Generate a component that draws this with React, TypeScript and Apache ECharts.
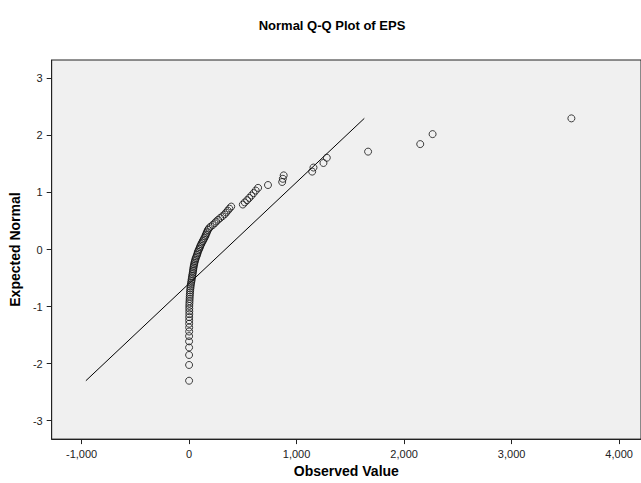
import React, { useEffect, useRef } from "react";
import * as echarts from "echarts";

// Observed EPS values (sorted ascending)
const observed: number[] = [
  0, 0, 0, 0, 0, 0, 1, 1, 1, 1, 1, 2, 2, 2,
  2, 3, 4, 5, 6, 7, 9, 10, 12, 14, 16, 19, 22, 24, 27, 29, 32, 35, 37, 39,
  41, 44, 47, 50, 54, 58, 62, 68, 74, 78, 82, 88,
  95, 100, 106, 112, 120, 128, 135, 142, 150, 156, 162, 168, 175, 185,
  200, 220, 238, 252, 270, 290, 310, 330, 345, 360, 375, 392,
  500, 518, 540, 560, 580, 600, 620, 642,
  734,
  866, 872, 880,
  1145, 1157, 1250, 1281,
  1665,
  2150,
  2265,
  3556,
];

// Expected normal values
const expected: number[] = [
  -2.299, -2.023, -1.848, -1.716, -1.609, -1.517, -1.437, -1.366, -1.3, -1.24,
  -1.184, -1.131, -1.081, -1.034, -0.989, -0.946, -0.905, -0.865, -0.826, -0.789,
  -0.753, -0.717, -0.683, -0.649, -0.616, -0.584, -0.553, -0.522, -0.491, -0.461,
  -0.431, -0.401, -0.372, -0.344, -0.315, -0.287, -0.259, -0.231, -0.203, -0.176,
  -0.149, -0.122, -0.094, -0.067, -0.04, -0.013,
  0.013, 0.04, 0.067, 0.094, 0.122, 0.149, 0.176, 0.203, 0.231, 0.259,
  0.287, 0.315, 0.344, 0.372, 0.401, 0.431, 0.461, 0.491, 0.522, 0.553,
  0.584, 0.616, 0.649, 0.683, 0.717, 0.753, 0.789, 0.826, 0.865, 0.905,
  0.946, 0.989, 1.034, 1.081, 1.131, 1.184, 1.24, 1.3, 1.366, 1.437,
  1.517, 1.609, 1.716, 1.848, 2.023, 2.299,
];

// Reference line endpoints
const lineObserved: number[] = [-960, 1630];
const lineExpected: number[] = [-2.299, 2.299];

const xTicks: number[] = [-1000, 0, 1000, 2000, 3000, 4000];
const yTicks: number[] = [-3, -2, -1, 0, 1, 2, 3];

const FONT = '"Liberation Sans", Arial, sans-serif';

export default function App() {
  const ref = useRef<HTMLDivElement>(null);
  useEffect(() => {
    const chart = echarts.init(ref.current!, null, { renderer: "svg" });
    const points = observed.map((v, i) => [v, expected[i]]);
    const linePts = lineObserved.map((v, i) => [v, lineExpected[i]]);
    chart.setOption({
      animation: false,
      backgroundColor: "#ffffff",
      title: {
        text: "Normal Q-Q Plot of EPS",
        left: 327,
        textAlign: "center",
        top: 14,
        textStyle: { fontFamily: FONT, fontSize: 13, fontWeight: "bold", color: "#000" },
      },
      grid: {
        left: 51,
        top: 60,
        right: -2,
        bottom: 43,
        show: true,
        backgroundColor: "#f0f0f0",
        borderColor: "#222",
        borderWidth: 1,
      },
      xAxis: {
        type: "value",
        min: -1278,
        max: 4203.5,
        name: "Observed Value",
        nameLocation: "middle",
        nameGap: 23,
        nameTextStyle: { fontFamily: FONT, fontSize: 14, fontWeight: "bold", color: "#000" },
        splitLine: { show: false },
        axisLine: { onZero: false, lineStyle: { color: "#222", width: 1 } },
        axisTick: { length: 5, customValues: xTicks, lineStyle: { color: "#222" } },
        axisLabel: {
          customValues: xTicks,
          margin: 9,
          fontFamily: FONT,
          fontSize: 11,
          color: "#222",
          formatter: (v: number) => v.toLocaleString("en-US"),
        },
      },
      yAxis: {
        type: "value",
        min: -3.322,
        max: 3.322,
        name: "Expected Normal",
        nameLocation: "middle",
        nameGap: 22,
        nameTextStyle: { fontFamily: FONT, fontSize: 14, fontWeight: "bold", color: "#000" },
        splitLine: { show: false },
        axisLine: { onZero: false, lineStyle: { color: "#222", width: 1 } },
        axisTick: { length: 5, customValues: yTicks, lineStyle: { color: "#222" } },
        axisLabel: {
          customValues: yTicks,
          margin: 9,
          fontFamily: FONT,
          fontSize: 11,
          color: "#222",
          formatter: (v: number) => String(v),
        },
      },
      series: [
        {
          type: "line",
          data: linePts,
          symbol: "none",
          silent: true,
          lineStyle: { color: "#000", width: 1 },
          z: 2,
        },
        {
          type: "scatter",
          data: points,
          symbol: "circle",
          symbolSize: 7,
          itemStyle: { color: "rgba(0,0,0,0)", borderColor: "#111", borderWidth: 1 },
          z: 3,
        },
      ],
    });
    return () => chart.dispose();
  }, []);
  return (
    <div
      ref={ref}
      style={{ position: "fixed", left: 0, top: 0, width: 641, height: 483, background: "#fff" }}
    />
  );
}
